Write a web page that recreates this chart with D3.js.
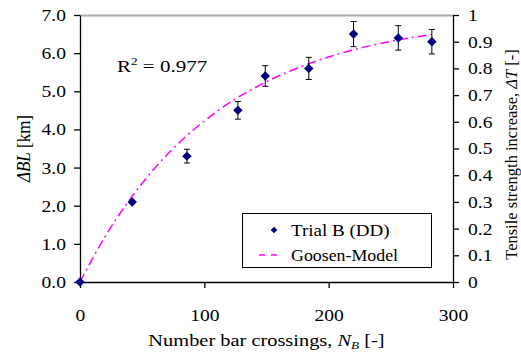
<!DOCTYPE html>
<html>
<head>
<meta charset="utf-8">
<style>
  body { margin: 0; background: #ffffff; }
  svg text { font-family: "Liberation Serif", "Times New Roman", serif; fill: #000; }
</style>
<script src="https://d3js.org/d3.v7.min.js"></script>
</head>
<body>
<svg id="chart" width="521" height="356"></svg>
<script>
// measured data (Trial B)
var crossings = [0, 42, 86, 127, 149, 184, 220, 256, 283];
var deltaBL   = [0, 2.1, 3.3, 4.5, 5.4, 5.6, 6.5, 6.4, 6.3];
var errBL     = [0, 0, 0.18, 0.23, 0.27, 0.29, 0.33, 0.32, 0.32];

// Goosen model curve
var modelX = [0, 20, 40, 60, 80, 100, 125, 150, 175, 200, 225, 250, 283];
var modelY = [0, 1.18, 2.16, 2.98, 3.66, 4.22, 4.80, 5.25, 5.61, 5.90, 6.13, 6.31, 6.49];

var xTicks = [0, 100, 200, 300];
var leftTicks = [0, 1, 2, 3, 4, 5, 6, 7];
var rightTicks = [0, 0.1, 0.2, 0.3, 0.4, 0.5, 0.6, 0.7, 0.8, 0.9, 1];

var FS = 17,   // font size
    SX = 1.15; // the original text is drawn a bit wide

var svg = d3.select("#chart"),
    margin = {left: 80, right: 68, top: 15, bottom: 74},
    width = +svg.attr("width") - margin.left - margin.right,
    height = +svg.attr("height") - margin.top - margin.bottom;

var x = d3.scaleLinear().domain([0, 300]).range([0, width]);
var y = d3.scaleLinear().domain([0, 7]).range([height, 0]);
var y2 = d3.scaleLinear().domain([0, 1]).range([height, 0]);

var g = svg.append("g").attr("transform", "translate(" + margin.left + "," + margin.top + ")");

// top border
g.append("line").attr("x1", 0).attr("x2", width).attr("y1", 0.5).attr("y2", 0.5)
  .attr("stroke", "#aaa").attr("stroke-width", 2);

function styleAxis(sel) {
  sel.attr("font-family", null).attr("font-size", null);
  sel.selectAll("path").attr("stroke", "#000").attr("stroke-width", 1.3);
  sel.selectAll("line").attr("stroke", "#000").attr("stroke-width", 1.3);
  sel.selectAll("text").style("font-size", FS + "px").attr("fill", "#000")
    .each(function() {
      var t = d3.select(this);
      t.attr("x", (+t.attr("x") || 0) / SX).attr("transform", "scale(" + SX + ",1)");
    });
}

function addText(px, py, size, sx) {
  return svg.append("text")
    .attr("transform", "translate(" + px + "," + py + ") scale(" + (sx || SX) + ",1)")
    .style("font-size", (size || FS) + "px");
}

g.append("g")
  .attr("transform", "translate(0," + height + ")")
  .call(d3.axisBottom(x).tickValues(xTicks).tickSize(6).tickSizeOuter(0).tickPadding(21))
  .call(styleAxis);

g.append("g")
  .call(d3.axisLeft(y).tickValues(leftTicks).tickFormat(d3.format(".1f")).tickSize(6).tickSizeOuter(0).tickPadding(8))
  .call(styleAxis);

g.append("g")
  .attr("transform", "translate(" + width + ",0)")
  .call(d3.axisRight(y2).tickValues(rightTicks).tickFormat(d3.format("~g")).tickSize(6).tickSizeOuter(0).tickPadding(9))
  .call(styleAxis);

// model line
var line = d3.line().x(function(d) { return x(d[0]); }).y(function(d) { return y(d[1]); }).curve(d3.curveMonotoneX);
g.append("path")
  .datum(d3.zip(modelX, modelY))
  .attr("d", line)
  .attr("fill", "none")
  .attr("stroke", "#ff00ff")
  .attr("stroke-width", 1.5)
  .attr("stroke-dasharray", "9,4,2,4");

// error bars
var pts = crossings.map(function(c, i) { return {x: c, y: deltaBL[i], e: errBL[i]}; });
var eb = g.selectAll(".err").data(pts.filter(function(d) { return d.e > 0; })).enter().append("g");
eb.append("line")
  .attr("x1", function(d) { return x(d.x); }).attr("x2", function(d) { return x(d.x); })
  .attr("y1", function(d) { return y(d.y - d.e); }).attr("y2", function(d) { return y(d.y + d.e); })
  .attr("stroke", "#000").attr("stroke-width", 1);
[-1, 1].forEach(function(s) {
  eb.append("line")
    .attr("x1", function(d) { return x(d.x) - 3; }).attr("x2", function(d) { return x(d.x) + 3; })
    .attr("y1", function(d) { return y(d.y + s * d.e); }).attr("y2", function(d) { return y(d.y + s * d.e); })
    .attr("stroke", "#000").attr("stroke-width", 1);
});

// markers
g.selectAll(".pt").data(pts).enter().append("path")
  .attr("d", d3.symbol().type(d3.symbolSquare).size(45))
  .attr("transform", function(d) { return "translate(" + x(d.x) + "," + y(d.y) + ") rotate(45)"; })
  .attr("fill", "#000080");

// R^2 annotation
var r2 = addText(117, 72, 17.5, 1.2);
r2.append("tspan").text("R");
r2.append("tspan").attr("dy", -7).style("font-size", "11px").text("2");
r2.append("tspan").attr("dy", 7).text(" = 0.977");

// legend
var lg = svg.append("g");
lg.append("rect").attr("x", 242.5).attr("y", 213.5).attr("width", 189).attr("height", 54)
  .attr("fill", "#fff").attr("stroke", "#000").attr("stroke-width", 1);
lg.append("path")
  .attr("d", d3.symbol().type(d3.symbolSquare).size(22))
  .attr("transform", "translate(274,230) rotate(45)")
  .attr("fill", "#000080");
addText(291, 236, FS, 1.12).text("Trial B (DD)");
lg.append("line").attr("x1", 259).attr("x2", 283).attr("y1", 255).attr("y2", 255)
  .attr("stroke", "#ff00ff").attr("stroke-width", 1.5).attr("stroke-dasharray", "6,6");
addText(291, 261, FS, 1.05).text("Goosen-Model");

// axis titles
var xt = addText(margin.left + width / 2, 346, FS, 1.2).attr("text-anchor", "middle");
xt.append("tspan").text("Number bar crossings, ");
xt.append("tspan").style("font-style", "italic").text("N");
xt.append("tspan").style("font-style", "italic").style("font-size", "11px").attr("dy", 3).text("B");
xt.append("tspan").attr("dy", -3).text("  [-]");

var yt = svg.append("text")
  .attr("transform", "translate(30," + (margin.top + height / 2) + ") rotate(-90) scale(1," + SX + ")")
  .attr("text-anchor", "middle").style("font-size", FS + "px");
yt.append("tspan").style("font-style", "italic").text("\u0394BL");
yt.append("tspan").text("  [km]");

var rt = svg.append("text")
  .attr("transform", "translate(517," + (margin.top + height / 2 + 6) + ") rotate(-90)")
  .attr("text-anchor", "middle").style("font-size", "16.5px");
rt.append("tspan").text("Tensile strength increase, ");
rt.append("tspan").style("font-style", "italic").text("\u0394T");
rt.append("tspan").text(" [-]");
</script>
</body>
</html>
